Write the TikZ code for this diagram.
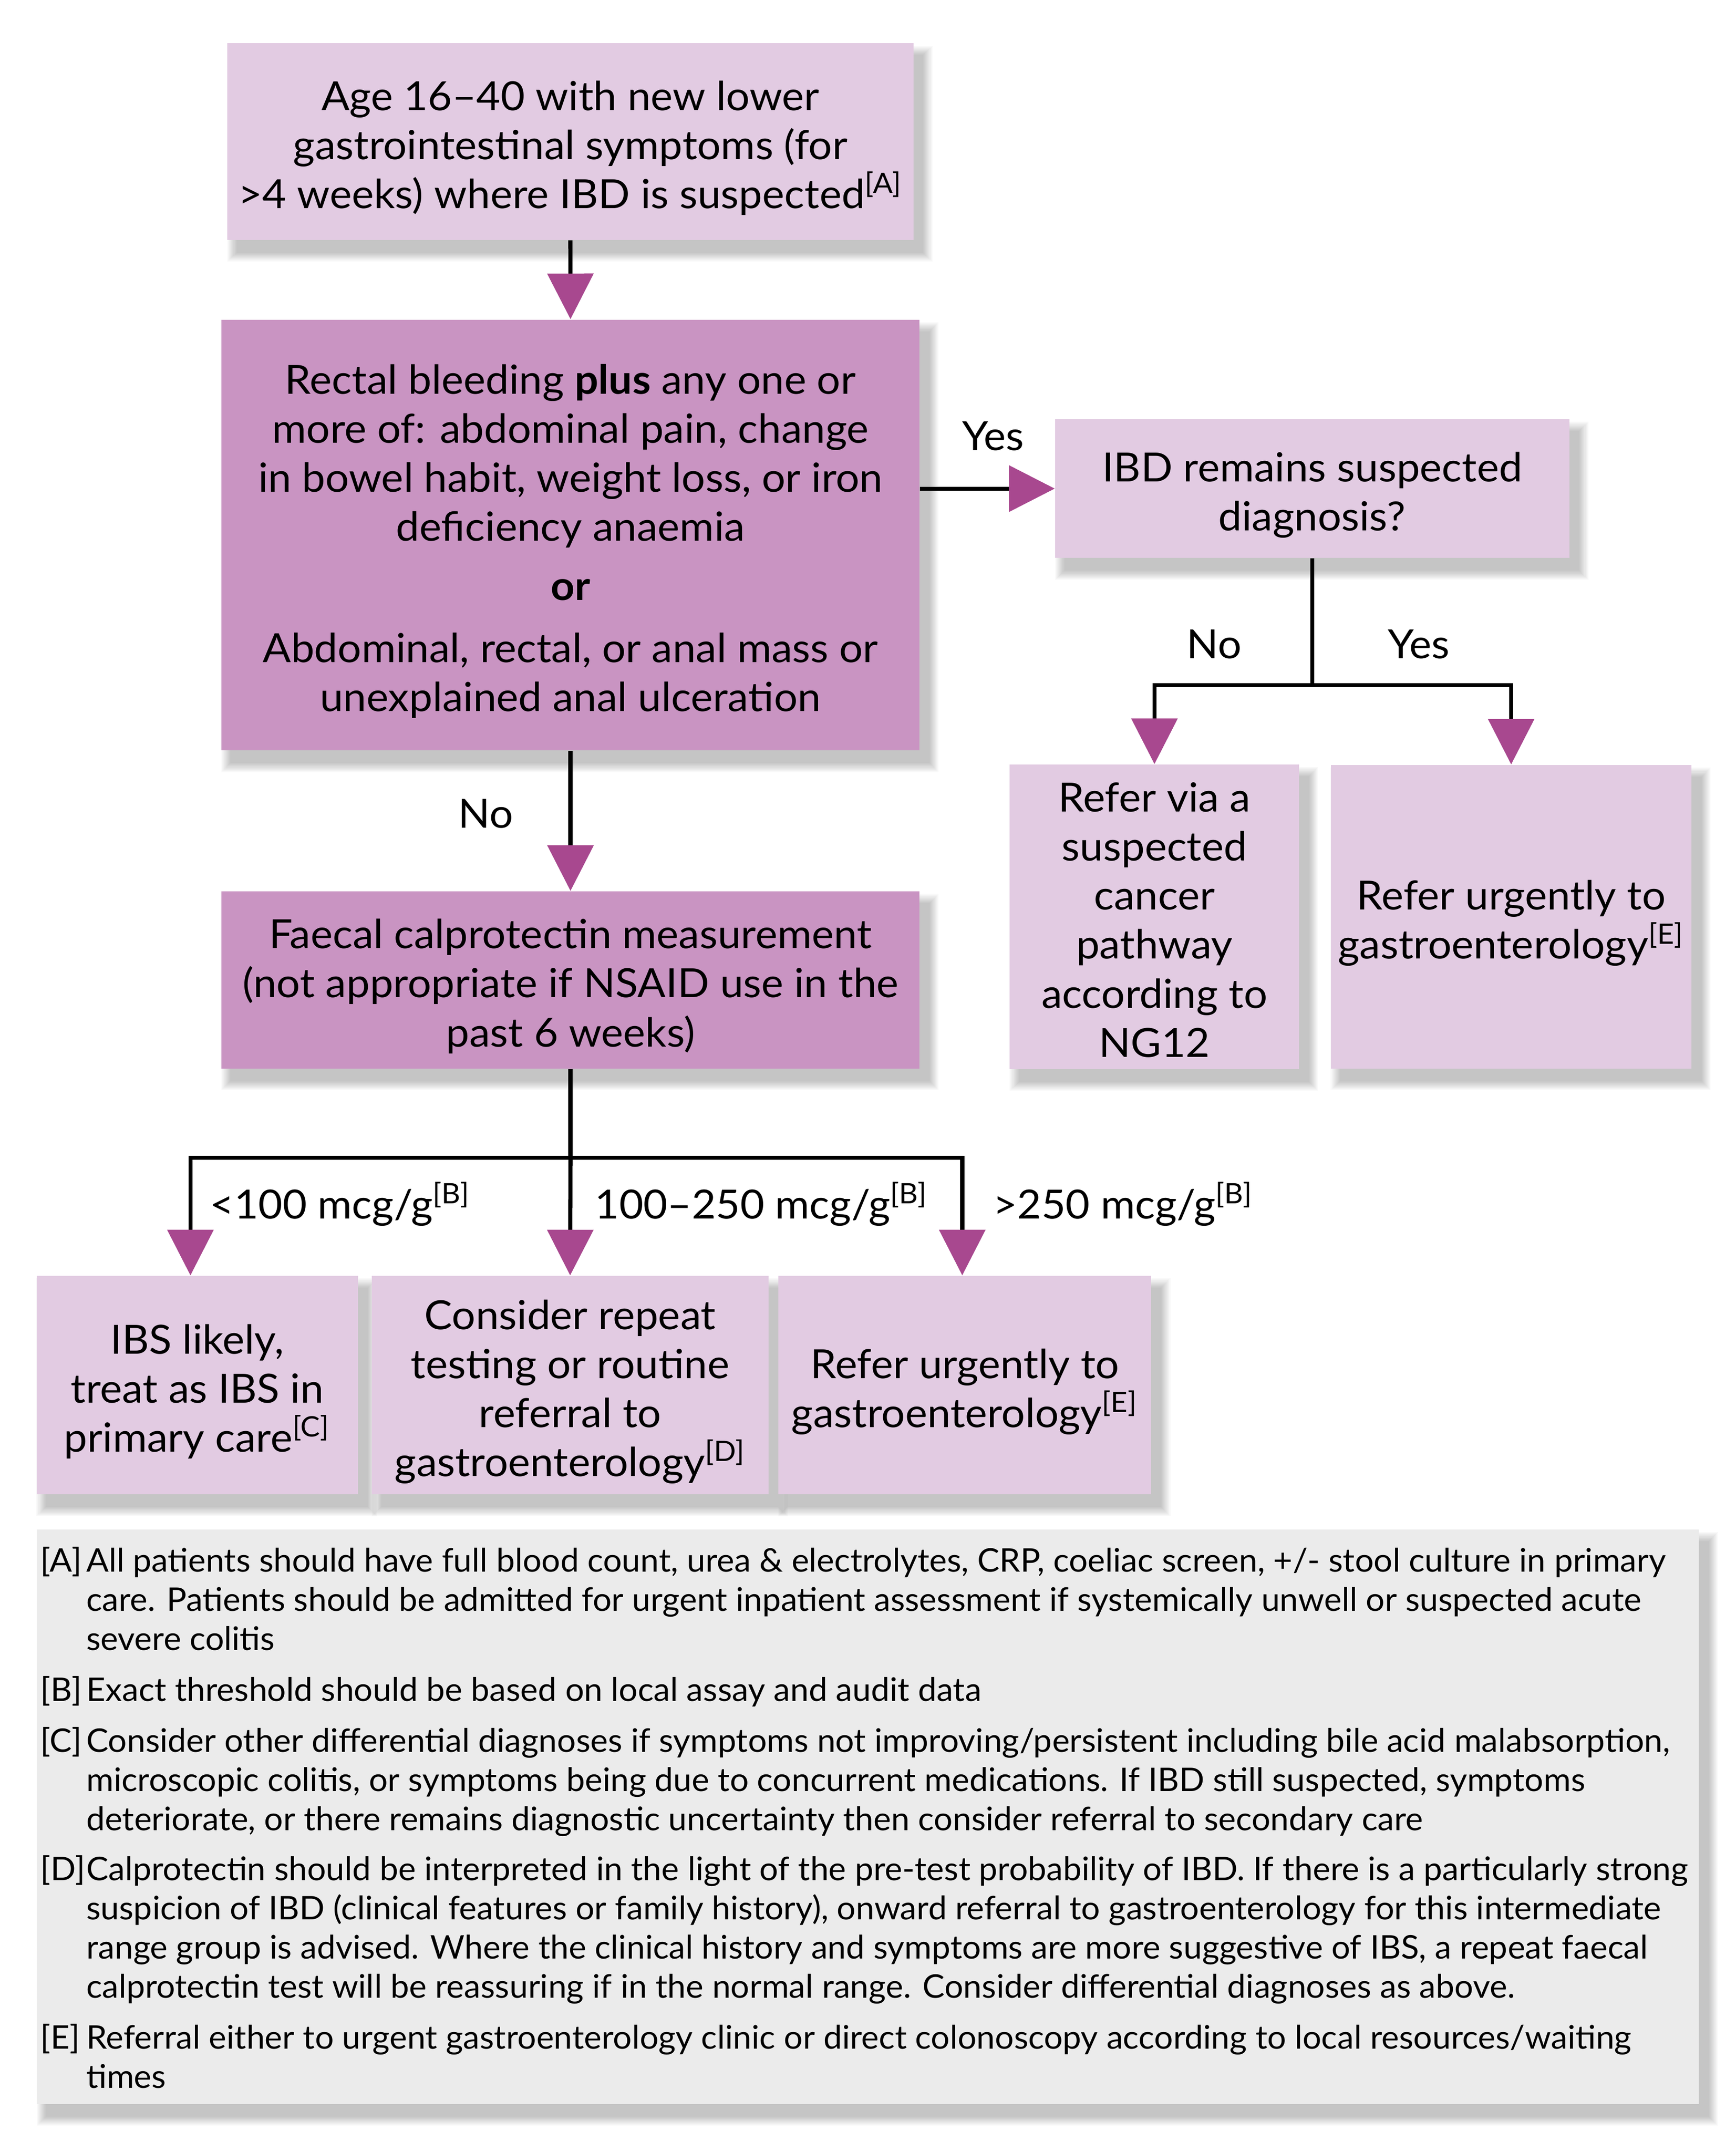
\documentclass[tikz,border=0pt]{standalone}
\usepackage{fontspec}
\setmainfont{Lato}[FakeStretch=1.04]
\newfontfamily\notefamily{Lato}[FakeStretch=1.022]
\usetikzlibrary{arrows.meta,calc}
\definecolor{boxlight}{RGB}{226,203,226}
\definecolor{boxdark}{RGB}{201,148,194}
\definecolor{arrowc}{RGB}{168,72,143}
\definecolor{notegray}{RGB}{235,235,235}
\pgfdeclarelayer{bglayer}
\pgfdeclarelayer{shadowlayer}
\pgfsetlayers{bglayer,shadowlayer,main}
\newcommand\mainfs{\fontsize{16.8}{20.5}\selectfont}
\newcommand\notefs{\notefamily\fontsize{13.6}{16.4}\selectfont}
\newcommand\tb{\rule{0pt}{19.8pt}}
\newcommand\bb{\rule[-5pt]{0pt}{5pt}}
\newcommand\sref[1]{\textsuperscript{[#1]}}
\newcommand\boxshadow[1]{%
  \begin{pgfonlayer}{shadowlayer}
  \foreach \k in {0,...,9}{
    \fill[black,opacity=0.025]
      ($(#1.north west)+(0.14cm-\k*0.015cm,-0.18cm+\k*0.015cm)$) rectangle
      ($(#1.south east)+(0.14cm+\k*0.015cm,-0.18cm-\k*0.015cm)$);
  }
  \end{pgfonlayer}}
\tikzset{
  box/.style={inner sep=0pt, align=center, font=\mainfs, text=black},
  light/.style={box, fill=boxlight},
  dark/.style={box, fill=boxdark},
  conn/.style={line width=1.7pt, line join=miter},
  arr/.style={conn, -{Triangle[width=0.67cm,length=0.67cm,color=arrowc]}},
  lab/.style={inner sep=0pt, font=\mainfs, anchor=base},
  labw/.style={inner sep=0pt, font=\mainfs, anchor=base west},
  note/.style={inner sep=0pt, font=\notefs, anchor=base west},
}
\begin{document}
\begin{tikzpicture}[x=0.02cm, y=-0.02cm]
\useasboundingbox (0,0) rectangle (1275,1581.2);
\begin{pgfonlayer}{bglayer}
\fill[white] (0,0) rectangle (1275,1581.2);
\end{pgfonlayer}

% boxes
\node[light, minimum width=10.08cm, minimum height=2.888cm] (top) at (419,104)
  {\tb Age 16--40 with new lower\\gastrointestinal symptoms (for\\>4 weeks) where IBD is suspected\sref{A}\bb};
\node[dark, minimum width=10.26cm, minimum height=6.332cm] (rectal) at (419.1,393.1)
  {\tb Rectal bleeding \textbf{plus} any one or\\more of: abdominal pain, change\\in bowel habit, weight loss, or iron\\deficiency anaemia\\[0.15cm]\textbf{or}\\[0.19cm]Abdominal, rectal, or anal mass or\\unexplained anal ulceration\bb};
\node[light, minimum width=7.554cm, minimum height=2.04cm] (ibd) at (964,359)
  {\tb IBD remains suspected\\diagnosis?\bb};
\node[light, minimum width=4.252cm, minimum height=4.462cm] (cancer) at (848.1,673.55)
  {\tb Refer via a\\suspected\\cancer\\pathway\\according to\\NG12\bb};
\node[light, minimum width=5.302cm, minimum height=4.462cm] (refR) at (1110.15,673.55)
  {\tb Refer urgently to\\gastroenterology\sref{E}\bb};
\node[dark, minimum width=10.26cm, minimum height=2.604cm] (faecal) at (419.1,720)
  {\tb Faecal calprotectin measurement\\(not appropriate if NSAID use in the\\past 6 weeks)\bb};
\node[light, minimum width=4.724cm, minimum height=3.212cm] (ibs) at (144.9,1017.7)
  {\tb IBS likely,\\treat as IBS in\\primary care\sref{C}\bb};
\node[light, minimum width=5.826cm, minimum height=3.212cm] (consider) at (418.85,1017.7)
  {\tb Consider repeat\\testing or routine\\referral to\\gastroenterology\sref{D}\bb};
\node[light, minimum width=5.482cm, minimum height=3.212cm] (refB) at (708.75,1017.7)
  {\tb Refer urgently to\\gastroenterology\sref{E}\bb};
\node[fill=notegray, inner sep=0pt, minimum width=24.428cm, minimum height=8.442cm] (notes) at (637.5,1334.75) {};

\foreach \n in {top,rectal,ibd,cancer,refR,faecal,ibs,consider,refB,notes}{\boxshadow{\n}}

% connectors
\draw[arr] (top.south) -- (rectal.north);
\draw[arr] (rectal.east |- ibd.west) -- (ibd.west);
\draw[arr] (rectal.south) -- (faecal.north);
\coordinate (j1) at (964,503.4);
\draw[conn] (ibd.south) -- (j1);
\draw[arr] (j1) -| (cancer.north);
\draw[arr] (j1) -| (refR.north);
\coordinate (j2) at (419.1,850.6);
\draw[conn] (faecal.south) -- (j2);
\draw[arr] (j2) -| ([xshift=-0.1cm]ibs.north);
\draw[arr] (j2) -- (consider.north);
\draw[arr] (j2) -| ([xshift=-0.037cm]refB.north);

% connector labels
\node[lab, fill=white, inner xsep=0.3cm, inner ysep=0.12cm] (yes1) at (729.6,331) {Yes};
\node[lab] (no1) at (357,608.4) {No};
\node[lab] (no2) at (891.8,483.7) {No};
\node[lab] (yes2) at (1042.2,483.7) {Yes};
\node[labw] (c1) at (154,895.5) {<100 mcg/g\sref{B}};
\node[labw] (c2) at (436.7,895.5) {100--250 mcg/g\sref{B}};
\node[labw] (c3) at (729.2,895.5) {>250 mcg/g\sref{B}};

% footnotes
\node[note] (la) at (29.3,1155) {[A]};
\node[note] (a1) at (63.1,1155) {All patients should have full blood count, urea \& electrolytes, CRP, coeliac screen, +/- stool culture in primary};
\node[note] (a2) at (63.1,1183.8) {care. Patients should be admitted for urgent inpatient assessment if systemically unwell or suspected acute};
\node[note] (a3) at (63.1,1212.6) {severe colitis};
\node[note] (lb) at (29.3,1250) {[B]};
\node[note] (b1) at (63.1,1250) {Exact threshold should be based on local assay and audit data};
\node[note] (lc) at (29.3,1287.3) {[C]};
\node[note] (c1n) at (63.1,1287.3) {Consider other differential diagnoses if symptoms not improving/persistent including bile acid malabsorption,};
\node[note] (c2n) at (63.1,1316.1) {microscopic colitis, or symptoms being due to concurrent medications. If IBD still suspected, symptoms};
\node[note] (c3n) at (63.1,1344.9) {deteriorate, or there remains diagnostic uncertainty then consider referral to secondary care};
\node[note] (ld) at (29.3,1381.8) {[D]};
\node[note] (d1) at (63.1,1381.8) {Calprotectin should be interpreted in the light of the pre-test probability of IBD. If there is a particularly strong};
\node[note] (d2) at (63.1,1410.5) {suspicion of IBD (clinical features or family history), onward referral to gastroenterology for this intermediate};
\node[note] (d3) at (63.1,1439.3) {range group is advised. Where the clinical history and symptoms are more suggestive of IBS, a repeat faecal};
\node[note] (d4) at (63.1,1468.1) {calprotectin test will be reassuring if in the normal range. Consider differential diagnoses as above.};
\node[note] (le) at (29.3,1505.5) {[E]};
\node[note] (e1) at (63.1,1505.5) {Referral either to urgent gastroenterology clinic or direct colonoscopy according to local resources/waiting};
\node[note] (e2) at (63.1,1534.2) {times};
\end{tikzpicture}
\end{document}
